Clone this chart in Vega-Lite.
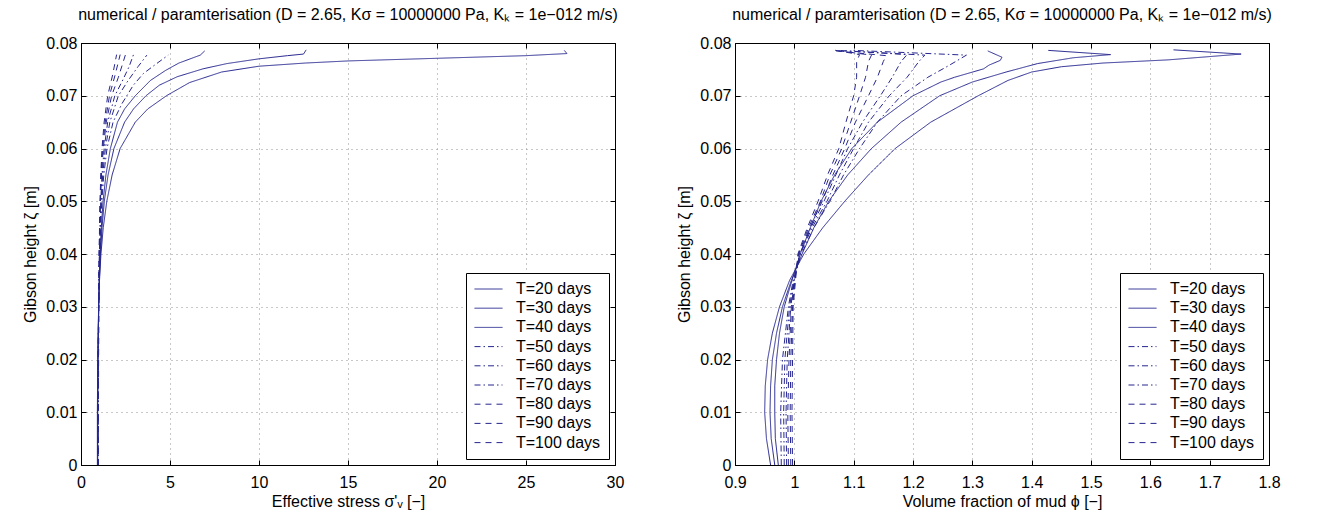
{
  "$schema": "https://vega.github.io/schema/vega-lite/v6.json",
  "background": "white",
  "padding": {"left": 22, "top": 6, "right": 5, "bottom": 5},
  "bounds": "flush",
  "spacing": 120,
  "config": {
    "font": "Liberation Sans",
    "view": {"stroke": "black", "strokeWidth": 1},
    "axis": {
      "labelFontSize": 16, "titleFontSize": 16, "titleFontWeight": "normal",
      "labelColor": "black", "titleColor": "black", "domainColor": "black", "tickColor": "black",
      "gridColor": "#909090", "gridDash": [1, 4], "gridOpacity": 1,
      "labelFlush": false, "labelOverlap": false, "tickSize": -5
    },
    "legend": {
      "orient": "bottom-right", "offset": 6, "padding": 8,
      "symbolType": "stroke", "symbolSize": 784, "symbolStrokeWidth": 1, "symbolStrokeColor": "#262690",
      "labelFontSize": 16, "labelColor": "black", "labelOffset": 13, "clipHeight": 16, "rowPadding": 3.2,
      "fillColor": "white", "strokeColor": "black"
    },
    "title": {"fontSize": 16, "fontWeight": "normal", "color": "black", "frame": "group", "anchor": "middle", "offset": 12}
  },
  "resolve": {"scale": {"strokeDash": "independent"}},
  "datasets": {
    "stress": [
      {"T": "T=20 days", "i": 0, "h": 0, "v": 0.92}, {"T": "T=20 days", "i": 1, "h": 0.01, "v": 0.92}, {"T": "T=20 days", "i": 2, "h": 0.02, "v": 0.94}, {"T": "T=20 days", "i": 3, "h": 0.03, "v": 0.99}, {"T": "T=20 days", "i": 4, "h": 0.035, "v": 1.04}, {"T": "T=20 days", "i": 5, "h": 0.04, "v": 1.12}, {"T": "T=20 days", "i": 6, "h": 0.045, "v": 1.25}, {"T": "T=20 days", "i": 7, "h": 0.05, "v": 1.45}, {"T": "T=20 days", "i": 8, "h": 0.055, "v": 1.75}, {"T": "T=20 days", "i": 9, "h": 0.06, "v": 2.2}, {"T": "T=20 days", "i": 10, "h": 0.065, "v": 3.05}, {"T": "T=20 days", "i": 11, "h": 0.0675, "v": 3.75}, {"T": "T=20 days", "i": 12, "h": 0.07, "v": 4.8}, {"T": "T=20 days", "i": 13, "h": 0.0725, "v": 6.1}, {"T": "T=20 days", "i": 14, "h": 0.0745, "v": 7.9}, {"T": "T=20 days", "i": 15, "h": 0.0756, "v": 10.0}, {"T": "T=20 days", "i": 16, "h": 0.0762, "v": 12.6}, {"T": "T=20 days", "i": 17, "h": 0.0766, "v": 15.0}, {"T": "T=20 days", "i": 18, "h": 0.0771, "v": 20.0}, {"T": "T=20 days", "i": 19, "h": 0.0776, "v": 25.0}, {"T": "T=20 days", "i": 20, "h": 0.078, "v": 27.3}, {"T": "T=20 days", "i": 21, "h": 0.0786, "v": 27.15},
      {"T": "T=30 days", "i": 0, "h": 0, "v": 0.93}, {"T": "T=30 days", "i": 1, "h": 0.01, "v": 0.93}, {"T": "T=30 days", "i": 2, "h": 0.02, "v": 0.95}, {"T": "T=30 days", "i": 3, "h": 0.03, "v": 0.99}, {"T": "T=30 days", "i": 4, "h": 0.035, "v": 1.03}, {"T": "T=30 days", "i": 5, "h": 0.04, "v": 1.09}, {"T": "T=30 days", "i": 6, "h": 0.045, "v": 1.18}, {"T": "T=30 days", "i": 7, "h": 0.05, "v": 1.31}, {"T": "T=30 days", "i": 8, "h": 0.055, "v": 1.52}, {"T": "T=30 days", "i": 9, "h": 0.06, "v": 1.85}, {"T": "T=30 days", "i": 10, "h": 0.065, "v": 2.45}, {"T": "T=30 days", "i": 11, "h": 0.0675, "v": 2.95}, {"T": "T=30 days", "i": 12, "h": 0.07, "v": 3.65}, {"T": "T=30 days", "i": 13, "h": 0.072, "v": 4.4}, {"T": "T=30 days", "i": 14, "h": 0.0736, "v": 5.4}, {"T": "T=30 days", "i": 15, "h": 0.0751, "v": 6.85}, {"T": "T=30 days", "i": 16, "h": 0.0761, "v": 8.2}, {"T": "T=30 days", "i": 17, "h": 0.077, "v": 10.0}, {"T": "T=30 days", "i": 18, "h": 0.0776, "v": 11.6}, {"T": "T=30 days", "i": 19, "h": 0.0779, "v": 12.5}, {"T": "T=30 days", "i": 20, "h": 0.0787, "v": 12.65},
      {"T": "T=40 days", "i": 0, "h": 0, "v": 0.94}, {"T": "T=40 days", "i": 1, "h": 0.01, "v": 0.94}, {"T": "T=40 days", "i": 2, "h": 0.02, "v": 0.96}, {"T": "T=40 days", "i": 3, "h": 0.03, "v": 0.99}, {"T": "T=40 days", "i": 4, "h": 0.035, "v": 1.02}, {"T": "T=40 days", "i": 5, "h": 0.04, "v": 1.07}, {"T": "T=40 days", "i": 6, "h": 0.045, "v": 1.14}, {"T": "T=40 days", "i": 7, "h": 0.05, "v": 1.24}, {"T": "T=40 days", "i": 8, "h": 0.055, "v": 1.4}, {"T": "T=40 days", "i": 9, "h": 0.06, "v": 1.65}, {"T": "T=40 days", "i": 10, "h": 0.065, "v": 2.05}, {"T": "T=40 days", "i": 11, "h": 0.0675, "v": 2.45}, {"T": "T=40 days", "i": 12, "h": 0.07, "v": 3.05}, {"T": "T=40 days", "i": 13, "h": 0.0729, "v": 3.9}, {"T": "T=40 days", "i": 14, "h": 0.0748, "v": 4.75}, {"T": "T=40 days", "i": 15, "h": 0.0762, "v": 5.5}, {"T": "T=40 days", "i": 16, "h": 0.0777, "v": 6.7}, {"T": "T=40 days", "i": 17, "h": 0.0785, "v": 6.95},
      {"T": "T=50 days", "i": 0, "h": 0, "v": 0.95}, {"T": "T=50 days", "i": 1, "h": 0.01, "v": 0.95}, {"T": "T=50 days", "i": 2, "h": 0.02, "v": 0.96}, {"T": "T=50 days", "i": 3, "h": 0.03, "v": 0.99}, {"T": "T=50 days", "i": 4, "h": 0.04, "v": 1.05}, {"T": "T=50 days", "i": 5, "h": 0.045, "v": 1.1}, {"T": "T=50 days", "i": 6, "h": 0.05, "v": 1.17}, {"T": "T=50 days", "i": 7, "h": 0.055, "v": 1.28}, {"T": "T=50 days", "i": 8, "h": 0.06, "v": 1.46}, {"T": "T=50 days", "i": 9, "h": 0.065, "v": 1.8}, {"T": "T=50 days", "i": 10, "h": 0.0685, "v": 2.3}, {"T": "T=50 days", "i": 11, "h": 0.072, "v": 2.94}, {"T": "T=50 days", "i": 12, "h": 0.0742, "v": 3.5}, {"T": "T=50 days", "i": 13, "h": 0.0761, "v": 4.25}, {"T": "T=50 days", "i": 14, "h": 0.0777, "v": 4.9},
      {"T": "T=60 days", "i": 0, "h": 0, "v": 0.95}, {"T": "T=60 days", "i": 1, "h": 0.01, "v": 0.96}, {"T": "T=60 days", "i": 2, "h": 0.02, "v": 0.97}, {"T": "T=60 days", "i": 3, "h": 0.03, "v": 0.99}, {"T": "T=60 days", "i": 4, "h": 0.04, "v": 1.04}, {"T": "T=60 days", "i": 5, "h": 0.045, "v": 1.08}, {"T": "T=60 days", "i": 6, "h": 0.05, "v": 1.13}, {"T": "T=60 days", "i": 7, "h": 0.055, "v": 1.22}, {"T": "T=60 days", "i": 8, "h": 0.06, "v": 1.37}, {"T": "T=60 days", "i": 9, "h": 0.065, "v": 1.62}, {"T": "T=60 days", "i": 10, "h": 0.07, "v": 2.1}, {"T": "T=60 days", "i": 11, "h": 0.0729, "v": 2.65}, {"T": "T=60 days", "i": 12, "h": 0.0755, "v": 3.2}, {"T": "T=60 days", "i": 13, "h": 0.0777, "v": 3.7},
      {"T": "T=70 days", "i": 0, "h": 0, "v": 0.96}, {"T": "T=70 days", "i": 1, "h": 0.01, "v": 0.96}, {"T": "T=70 days", "i": 2, "h": 0.02, "v": 0.97}, {"T": "T=70 days", "i": 3, "h": 0.03, "v": 0.99}, {"T": "T=70 days", "i": 4, "h": 0.04, "v": 1.03}, {"T": "T=70 days", "i": 5, "h": 0.045, "v": 1.07}, {"T": "T=70 days", "i": 6, "h": 0.05, "v": 1.11}, {"T": "T=70 days", "i": 7, "h": 0.055, "v": 1.18}, {"T": "T=70 days", "i": 8, "h": 0.06, "v": 1.3}, {"T": "T=70 days", "i": 9, "h": 0.065, "v": 1.5}, {"T": "T=70 days", "i": 10, "h": 0.07, "v": 1.9}, {"T": "T=70 days", "i": 11, "h": 0.073, "v": 2.35}, {"T": "T=70 days", "i": 12, "h": 0.0755, "v": 2.7}, {"T": "T=70 days", "i": 13, "h": 0.0778, "v": 2.95},
      {"T": "T=80 days", "i": 0, "h": 0, "v": 0.96}, {"T": "T=80 days", "i": 1, "h": 0.01, "v": 0.97}, {"T": "T=80 days", "i": 2, "h": 0.02, "v": 0.98}, {"T": "T=80 days", "i": 3, "h": 0.03, "v": 0.99}, {"T": "T=80 days", "i": 4, "h": 0.04, "v": 1.03}, {"T": "T=80 days", "i": 5, "h": 0.045, "v": 1.06}, {"T": "T=80 days", "i": 6, "h": 0.05, "v": 1.09}, {"T": "T=80 days", "i": 7, "h": 0.055, "v": 1.15}, {"T": "T=80 days", "i": 8, "h": 0.06, "v": 1.25}, {"T": "T=80 days", "i": 9, "h": 0.065, "v": 1.42}, {"T": "T=80 days", "i": 10, "h": 0.07, "v": 1.72}, {"T": "T=80 days", "i": 11, "h": 0.0735, "v": 2.1}, {"T": "T=80 days", "i": 12, "h": 0.0778, "v": 2.5},
      {"T": "T=90 days", "i": 0, "h": 0, "v": 0.97}, {"T": "T=90 days", "i": 1, "h": 0.01, "v": 0.97}, {"T": "T=90 days", "i": 2, "h": 0.02, "v": 0.98}, {"T": "T=90 days", "i": 3, "h": 0.03, "v": 1.0}, {"T": "T=90 days", "i": 4, "h": 0.04, "v": 1.02}, {"T": "T=90 days", "i": 5, "h": 0.045, "v": 1.05}, {"T": "T=90 days", "i": 6, "h": 0.05, "v": 1.08}, {"T": "T=90 days", "i": 7, "h": 0.055, "v": 1.13}, {"T": "T=90 days", "i": 8, "h": 0.06, "v": 1.21}, {"T": "T=90 days", "i": 9, "h": 0.065, "v": 1.36}, {"T": "T=90 days", "i": 10, "h": 0.07, "v": 1.6}, {"T": "T=90 days", "i": 11, "h": 0.074, "v": 1.92}, {"T": "T=90 days", "i": 12, "h": 0.0778, "v": 2.2},
      {"T": "T=100 days", "i": 0, "h": 0, "v": 0.97}, {"T": "T=100 days", "i": 1, "h": 0.01, "v": 0.98}, {"T": "T=100 days", "i": 2, "h": 0.02, "v": 0.99}, {"T": "T=100 days", "i": 3, "h": 0.03, "v": 1.0}, {"T": "T=100 days", "i": 4, "h": 0.04, "v": 1.02}, {"T": "T=100 days", "i": 5, "h": 0.045, "v": 1.04}, {"T": "T=100 days", "i": 6, "h": 0.05, "v": 1.07}, {"T": "T=100 days", "i": 7, "h": 0.055, "v": 1.11}, {"T": "T=100 days", "i": 8, "h": 0.06, "v": 1.18}, {"T": "T=100 days", "i": 9, "h": 0.065, "v": 1.3}, {"T": "T=100 days", "i": 10, "h": 0.07, "v": 1.5}, {"T": "T=100 days", "i": 11, "h": 0.074, "v": 1.78}, {"T": "T=100 days", "i": 12, "h": 0.0778, "v": 2.0}
    ],
    "phi": [
      {"T": "T=20 days", "i": 0, "h": 0, "v": 0.96}, {"T": "T=20 days", "i": 1, "h": 0.005, "v": 0.953}, {"T": "T=20 days", "i": 2, "h": 0.01, "v": 0.95}, {"T": "T=20 days", "i": 3, "h": 0.015, "v": 0.951}, {"T": "T=20 days", "i": 4, "h": 0.02, "v": 0.955}, {"T": "T=20 days", "i": 5, "h": 0.025, "v": 0.963}, {"T": "T=20 days", "i": 6, "h": 0.03, "v": 0.975}, {"T": "T=20 days", "i": 7, "h": 0.035, "v": 0.992}, {"T": "T=20 days", "i": 8, "h": 0.04, "v": 1.016}, {"T": "T=20 days", "i": 9, "h": 0.045, "v": 1.048}, {"T": "T=20 days", "i": 10, "h": 0.05, "v": 1.085}, {"T": "T=20 days", "i": 11, "h": 0.055, "v": 1.125}, {"T": "T=20 days", "i": 12, "h": 0.06, "v": 1.17}, {"T": "T=20 days", "i": 13, "h": 0.065, "v": 1.23}, {"T": "T=20 days", "i": 14, "h": 0.07, "v": 1.31}, {"T": "T=20 days", "i": 15, "h": 0.0729, "v": 1.36}, {"T": "T=20 days", "i": 16, "h": 0.0745, "v": 1.4}, {"T": "T=20 days", "i": 17, "h": 0.0755, "v": 1.45}, {"T": "T=20 days", "i": 18, "h": 0.0762, "v": 1.52}, {"T": "T=20 days", "i": 19, "h": 0.0768, "v": 1.63}, {"T": "T=20 days", "i": 20, "h": 0.0779, "v": 1.753}, {"T": "T=20 days", "i": 21, "h": 0.0787, "v": 1.639},
      {"T": "T=30 days", "i": 0, "h": 0, "v": 0.967}, {"T": "T=30 days", "i": 1, "h": 0.005, "v": 0.961}, {"T": "T=30 days", "i": 2, "h": 0.01, "v": 0.959}, {"T": "T=30 days", "i": 3, "h": 0.015, "v": 0.96}, {"T": "T=30 days", "i": 4, "h": 0.02, "v": 0.963}, {"T": "T=30 days", "i": 5, "h": 0.025, "v": 0.97}, {"T": "T=30 days", "i": 6, "h": 0.03, "v": 0.98}, {"T": "T=30 days", "i": 7, "h": 0.035, "v": 0.995}, {"T": "T=30 days", "i": 8, "h": 0.04, "v": 1.013}, {"T": "T=30 days", "i": 9, "h": 0.045, "v": 1.033}, {"T": "T=30 days", "i": 10, "h": 0.05, "v": 1.058}, {"T": "T=30 days", "i": 11, "h": 0.055, "v": 1.09}, {"T": "T=30 days", "i": 12, "h": 0.06, "v": 1.13}, {"T": "T=30 days", "i": 13, "h": 0.065, "v": 1.18}, {"T": "T=30 days", "i": 14, "h": 0.07, "v": 1.245}, {"T": "T=30 days", "i": 15, "h": 0.0726, "v": 1.3}, {"T": "T=30 days", "i": 16, "h": 0.0745, "v": 1.357}, {"T": "T=30 days", "i": 17, "h": 0.0761, "v": 1.41}, {"T": "T=30 days", "i": 18, "h": 0.0772, "v": 1.47}, {"T": "T=30 days", "i": 19, "h": 0.0778, "v": 1.533}, {"T": "T=30 days", "i": 20, "h": 0.0786, "v": 1.428},
      {"T": "T=40 days", "i": 0, "h": 0, "v": 0.973}, {"T": "T=40 days", "i": 1, "h": 0.005, "v": 0.968}, {"T": "T=40 days", "i": 2, "h": 0.01, "v": 0.967}, {"T": "T=40 days", "i": 3, "h": 0.015, "v": 0.967}, {"T": "T=40 days", "i": 4, "h": 0.02, "v": 0.97}, {"T": "T=40 days", "i": 5, "h": 0.025, "v": 0.975}, {"T": "T=40 days", "i": 6, "h": 0.03, "v": 0.983}, {"T": "T=40 days", "i": 7, "h": 0.035, "v": 0.996}, {"T": "T=40 days", "i": 8, "h": 0.04, "v": 1.01}, {"T": "T=40 days", "i": 9, "h": 0.045, "v": 1.027}, {"T": "T=40 days", "i": 10, "h": 0.05, "v": 1.045}, {"T": "T=40 days", "i": 11, "h": 0.055, "v": 1.068}, {"T": "T=40 days", "i": 12, "h": 0.06, "v": 1.097}, {"T": "T=40 days", "i": 13, "h": 0.065, "v": 1.14}, {"T": "T=40 days", "i": 14, "h": 0.0675, "v": 1.17}, {"T": "T=40 days", "i": 15, "h": 0.07, "v": 1.2}, {"T": "T=40 days", "i": 16, "h": 0.0726, "v": 1.247}, {"T": "T=40 days", "i": 17, "h": 0.0735, "v": 1.27}, {"T": "T=40 days", "i": 18, "h": 0.0751, "v": 1.319}, {"T": "T=40 days", "i": 19, "h": 0.0758, "v": 1.328}, {"T": "T=40 days", "i": 20, "h": 0.0767, "v": 1.347}, {"T": "T=40 days", "i": 21, "h": 0.0773, "v": 1.35}, {"T": "T=40 days", "i": 22, "h": 0.0785, "v": 1.326},
      {"T": "T=50 days", "i": 0, "h": 0, "v": 0.978}, {"T": "T=50 days", "i": 1, "h": 0.01, "v": 0.977}, {"T": "T=50 days", "i": 2, "h": 0.02, "v": 0.98}, {"T": "T=50 days", "i": 3, "h": 0.03, "v": 0.99}, {"T": "T=50 days", "i": 4, "h": 0.035, "v": 0.998}, {"T": "T=50 days", "i": 5, "h": 0.04, "v": 1.012}, {"T": "T=50 days", "i": 6, "h": 0.045, "v": 1.033}, {"T": "T=50 days", "i": 7, "h": 0.05, "v": 1.06}, {"T": "T=50 days", "i": 8, "h": 0.055, "v": 1.083}, {"T": "T=50 days", "i": 9, "h": 0.06, "v": 1.11}, {"T": "T=50 days", "i": 10, "h": 0.065, "v": 1.14}, {"T": "T=50 days", "i": 11, "h": 0.07, "v": 1.18}, {"T": "T=50 days", "i": 12, "h": 0.0735, "v": 1.225}, {"T": "T=50 days", "i": 13, "h": 0.0757, "v": 1.26}, {"T": "T=50 days", "i": 14, "h": 0.0777, "v": 1.29}, {"T": "T=50 days", "i": 15, "h": 0.0786, "v": 1.1},
      {"T": "T=60 days", "i": 0, "h": 0, "v": 0.983}, {"T": "T=60 days", "i": 1, "h": 0.01, "v": 0.982}, {"T": "T=60 days", "i": 2, "h": 0.02, "v": 0.984}, {"T": "T=60 days", "i": 3, "h": 0.03, "v": 0.992}, {"T": "T=60 days", "i": 4, "h": 0.035, "v": 0.999}, {"T": "T=60 days", "i": 5, "h": 0.04, "v": 1.01}, {"T": "T=60 days", "i": 6, "h": 0.045, "v": 1.03}, {"T": "T=60 days", "i": 7, "h": 0.05, "v": 1.055}, {"T": "T=60 days", "i": 8, "h": 0.055, "v": 1.076}, {"T": "T=60 days", "i": 9, "h": 0.06, "v": 1.1}, {"T": "T=60 days", "i": 10, "h": 0.065, "v": 1.125}, {"T": "T=60 days", "i": 11, "h": 0.07, "v": 1.16}, {"T": "T=60 days", "i": 12, "h": 0.0735, "v": 1.19}, {"T": "T=60 days", "i": 13, "h": 0.0765, "v": 1.21}, {"T": "T=60 days", "i": 14, "h": 0.0777, "v": 1.22}, {"T": "T=60 days", "i": 15, "h": 0.0785, "v": 1.085},
      {"T": "T=70 days", "i": 0, "h": 0, "v": 0.987}, {"T": "T=70 days", "i": 1, "h": 0.01, "v": 0.986}, {"T": "T=70 days", "i": 2, "h": 0.02, "v": 0.988}, {"T": "T=70 days", "i": 3, "h": 0.03, "v": 0.994}, {"T": "T=70 days", "i": 4, "h": 0.035, "v": 1.0}, {"T": "T=70 days", "i": 5, "h": 0.04, "v": 1.009}, {"T": "T=70 days", "i": 6, "h": 0.045, "v": 1.028}, {"T": "T=70 days", "i": 7, "h": 0.05, "v": 1.05}, {"T": "T=70 days", "i": 8, "h": 0.055, "v": 1.07}, {"T": "T=70 days", "i": 9, "h": 0.06, "v": 1.09}, {"T": "T=70 days", "i": 10, "h": 0.065, "v": 1.115}, {"T": "T=70 days", "i": 11, "h": 0.07, "v": 1.145}, {"T": "T=70 days", "i": 12, "h": 0.0735, "v": 1.165}, {"T": "T=70 days", "i": 13, "h": 0.0765, "v": 1.18}, {"T": "T=70 days", "i": 14, "h": 0.0778, "v": 1.19}, {"T": "T=70 days", "i": 15, "h": 0.0786, "v": 1.075},
      {"T": "T=80 days", "i": 0, "h": 0, "v": 0.99}, {"T": "T=80 days", "i": 1, "h": 0.01, "v": 0.989}, {"T": "T=80 days", "i": 2, "h": 0.02, "v": 0.991}, {"T": "T=80 days", "i": 3, "h": 0.03, "v": 0.995}, {"T": "T=80 days", "i": 4, "h": 0.035, "v": 1.0}, {"T": "T=80 days", "i": 5, "h": 0.04, "v": 1.008}, {"T": "T=80 days", "i": 6, "h": 0.045, "v": 1.026}, {"T": "T=80 days", "i": 7, "h": 0.05, "v": 1.047}, {"T": "T=80 days", "i": 8, "h": 0.055, "v": 1.065}, {"T": "T=80 days", "i": 9, "h": 0.06, "v": 1.085}, {"T": "T=80 days", "i": 10, "h": 0.065, "v": 1.103}, {"T": "T=80 days", "i": 11, "h": 0.07, "v": 1.125}, {"T": "T=80 days", "i": 12, "h": 0.0735, "v": 1.14}, {"T": "T=80 days", "i": 13, "h": 0.0765, "v": 1.15}, {"T": "T=80 days", "i": 14, "h": 0.0776, "v": 1.155}, {"T": "T=80 days", "i": 15, "h": 0.0785, "v": 1.07},
      {"T": "T=90 days", "i": 0, "h": 0, "v": 0.994}, {"T": "T=90 days", "i": 1, "h": 0.01, "v": 0.993}, {"T": "T=90 days", "i": 2, "h": 0.02, "v": 0.994}, {"T": "T=90 days", "i": 3, "h": 0.03, "v": 0.997}, {"T": "T=90 days", "i": 4, "h": 0.035, "v": 1.001}, {"T": "T=90 days", "i": 5, "h": 0.04, "v": 1.007}, {"T": "T=90 days", "i": 6, "h": 0.045, "v": 1.024}, {"T": "T=90 days", "i": 7, "h": 0.05, "v": 1.044}, {"T": "T=90 days", "i": 8, "h": 0.055, "v": 1.06}, {"T": "T=90 days", "i": 9, "h": 0.06, "v": 1.08}, {"T": "T=90 days", "i": 10, "h": 0.065, "v": 1.095}, {"T": "T=90 days", "i": 11, "h": 0.07, "v": 1.11}, {"T": "T=90 days", "i": 12, "h": 0.0735, "v": 1.12}, {"T": "T=90 days", "i": 13, "h": 0.0765, "v": 1.125}, {"T": "T=90 days", "i": 14, "h": 0.0777, "v": 1.13}, {"T": "T=90 days", "i": 15, "h": 0.0786, "v": 1.07},
      {"T": "T=100 days", "i": 0, "h": 0, "v": 0.997}, {"T": "T=100 days", "i": 1, "h": 0.01, "v": 0.996}, {"T": "T=100 days", "i": 2, "h": 0.02, "v": 0.997}, {"T": "T=100 days", "i": 3, "h": 0.03, "v": 0.998}, {"T": "T=100 days", "i": 4, "h": 0.035, "v": 1.002}, {"T": "T=100 days", "i": 5, "h": 0.04, "v": 1.006}, {"T": "T=100 days", "i": 6, "h": 0.045, "v": 1.022}, {"T": "T=100 days", "i": 7, "h": 0.05, "v": 1.04}, {"T": "T=100 days", "i": 8, "h": 0.055, "v": 1.056}, {"T": "T=100 days", "i": 9, "h": 0.06, "v": 1.075}, {"T": "T=100 days", "i": 10, "h": 0.065, "v": 1.087}, {"T": "T=100 days", "i": 11, "h": 0.07, "v": 1.1}, {"T": "T=100 days", "i": 12, "h": 0.0735, "v": 1.105}, {"T": "T=100 days", "i": 13, "h": 0.0765, "v": 1.105}, {"T": "T=100 days", "i": 14, "h": 0.0778, "v": 1.11}, {"T": "T=100 days", "i": 15, "h": 0.0787, "v": 1.065}
    ]
  },
  "hconcat": [
    {
      "width": 534, "height": 422,
      "title": {"text": "numerical / paramterisation (D = 2.65, Kσ = 10000000 Pa, Kₖ = 1e−012 m/s)"},
      "data": {"name": "stress"},
      "layer": [
        {
          "mark": {"type": "line", "strokeWidth": 1, "color": "#262690"},
          "encoding": {
            "x": {"field": "v", "type": "quantitative", "scale": {"domain": [0, 30], "nice": false, "zero": false},
                  "axis": {"title": "Effective stress σ'ᵥ [−]", "values": [0, 5, 10, 15, 20, 25, 30], "grid": true, "labelPadding": 14, "titlePadding": 3}},
            "y": {"field": "h", "type": "quantitative", "scale": {"domain": [0, 0.08], "nice": false, "zero": false},
                  "axis": {"title": "Gibson height ζ [m]", "values": [0, 0.01, 0.02, 0.03, 0.04, 0.05, 0.06, 0.07, 0.08], "format": "~g", "grid": true, "labelPadding": 9, "titlePadding": 7}},
            "strokeDash": {"field": "T", "type": "nominal",
              "scale": {"domain": ["T=20 days", "T=30 days", "T=40 days", "T=50 days", "T=60 days", "T=70 days", "T=80 days", "T=90 days", "T=100 days"],
                        "range": [[1, 0], [1, 0], [1, 0], [6, 3, 1.5, 3], [6, 3, 1.5, 3], [6, 3, 1.5, 3], [6, 5], [6, 5], [6, 5]]},
              "legend": {"title": null}},
            "order": {"field": "i", "type": "quantitative"}
          }
        },
        {
          "mark": {"type": "line", "opacity": 0},
          "encoding": {
            "x": {"field": "v", "type": "quantitative", "axis": {"orient": "top", "labels": false, "title": null, "grid": false, "values": [0, 5, 10, 15, 20, 25, 30]}},
            "y": {"field": "h", "type": "quantitative", "axis": {"orient": "right", "labels": false, "title": null, "grid": false, "values": [0, 0.01, 0.02, 0.03, 0.04, 0.05, 0.06, 0.07, 0.08]}},
            "detail": {"field": "T"},
            "order": {"field": "i", "type": "quantitative"}
          }
        }
      ],
      "resolve": {"axis": {"x": "independent", "y": "independent"}}
    },
    {
      "width": 534, "height": 422,
      "title": {"text": "numerical / paramterisation (D = 2.65, Kσ = 10000000 Pa, Kₖ = 1e−012 m/s)"},
      "data": {"name": "phi"},
      "layer": [
        {
          "mark": {"type": "line", "strokeWidth": 1, "color": "#262690"},
          "encoding": {
            "x": {"field": "v", "type": "quantitative", "scale": {"domain": [0.9, 1.8], "nice": false, "zero": false},
                  "axis": {"title": "Volume fraction of mud ϕ [−]", "values": [0.9, 1, 1.1, 1.2, 1.3, 1.4, 1.5, 1.6, 1.7, 1.8], "format": "~g", "grid": true, "labelPadding": 14, "titlePadding": 3}},
            "y": {"field": "h", "type": "quantitative", "scale": {"domain": [0, 0.08], "nice": false, "zero": false},
                  "axis": {"title": "Gibson height ζ [m]", "values": [0, 0.01, 0.02, 0.03, 0.04, 0.05, 0.06, 0.07, 0.08], "format": "~g", "grid": true, "labelPadding": 9, "titlePadding": 7}},
            "strokeDash": {"field": "T", "type": "nominal",
              "scale": {"domain": ["T=20 days", "T=30 days", "T=40 days", "T=50 days", "T=60 days", "T=70 days", "T=80 days", "T=90 days", "T=100 days"],
                        "range": [[1, 0], [1, 0], [1, 0], [6, 3, 1.5, 3], [6, 3, 1.5, 3], [6, 3, 1.5, 3], [6, 5], [6, 5], [6, 5]]},
              "legend": {"title": null}},
            "order": {"field": "i", "type": "quantitative"}
          }
        },
        {
          "mark": {"type": "line", "opacity": 0},
          "encoding": {
            "x": {"field": "v", "type": "quantitative", "axis": {"orient": "top", "labels": false, "title": null, "grid": false, "values": [0.9, 1, 1.1, 1.2, 1.3, 1.4, 1.5, 1.6, 1.7, 1.8]}},
            "y": {"field": "h", "type": "quantitative", "axis": {"orient": "right", "labels": false, "title": null, "grid": false, "values": [0, 0.01, 0.02, 0.03, 0.04, 0.05, 0.06, 0.07, 0.08]}},
            "detail": {"field": "T"},
            "order": {"field": "i", "type": "quantitative"}
          }
        }
      ],
      "resolve": {"axis": {"x": "independent", "y": "independent"}}
    }
  ]
}
